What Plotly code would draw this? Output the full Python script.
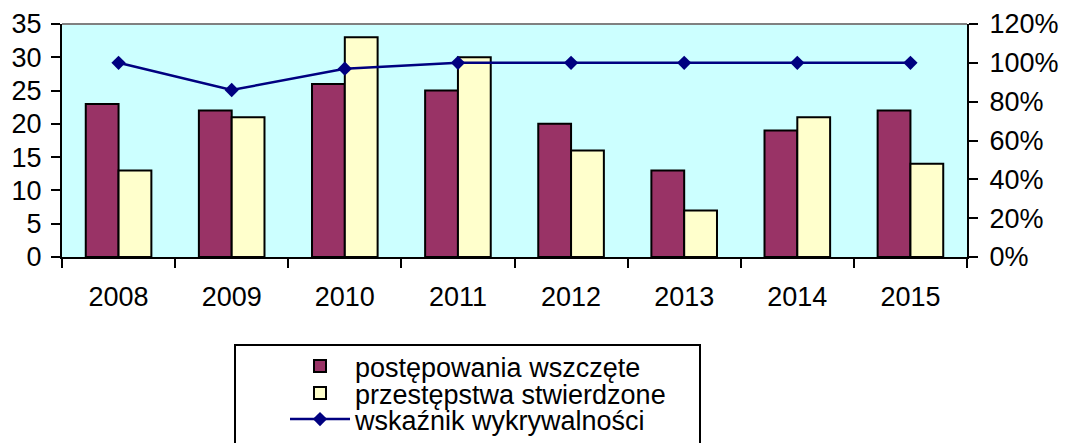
import plotly.graph_objects as go

years = ["2008", "2009", "2010", "2011", "2012", "2013", "2014", "2015"]
wszczete = [23, 22, 26, 25, 20, 13, 19, 22]
stwierdzone = [13, 21, 33, 30, 16, 7, 21, 14]
wskaznik = [1.00, 0.86, 0.97, 1.00, 1.00, 1.00, 1.00, 1.00]

name_a = "postępowania wszczęte"
name_b = "przestępstwa stwierdzone"
name_c = "wskaźnik wykrywalności"

FONT = "Liberation Sans, Arial, sans-serif"
W, H = 1065, 443
L, R, T, B = 62, 98, 24, 186
PW, PH = W - L - R, H - T - B


def px_x(p):
    return (p - L) / PW


def px_y(p):
    return (H - B - p) / PH


fig = go.Figure()
fig.add_trace(go.Bar(x=years, y=wszczete, name=name_a,
                     marker=dict(color="#993366", line=dict(color="black", width=2)),
                     legend="legend"))
fig.add_trace(go.Bar(x=years, y=stwierdzone, name=name_b,
                     marker=dict(color="#FFFFCC", line=dict(color="black", width=2)),
                     legend="legend2"))
fig.add_trace(go.Scatter(x=years, y=wskaznik, name=name_c, yaxis="y2",
                         mode="lines+markers",
                         line=dict(color="#000080", width=2.5),
                         marker=dict(symbol="diamond", size=11, color="#000080"),
                         legend="legend3"))

tick_font = dict(family=FONT, size=27, color="black")
leg_font = dict(family=FONT, size=27, color="black")

common_leg = dict(x=px_x(285), xanchor="left", yanchor="top",
                  bgcolor="rgba(0,0,0,0)", borderwidth=0, font=leg_font,
                  itemwidth=60)

fig.update_layout(
    width=W, height=H,
    margin=dict(l=L, r=R, t=T, b=B, pad=0, autoexpand=False),
    paper_bgcolor="white",
    plot_bgcolor="#CCFFFF",
    barmode="group",
    bargap=0.42,
    bargroupgap=0,
    showlegend=True,
    xaxis=dict(type="category", showline=True, linecolor="black", linewidth=2,
               ticks="outside", tickson="boundaries", ticklen=9, tickwidth=2,
               tickcolor="black", tickfont=tick_font, showgrid=False,
               ticklabelstandoff=15, zeroline=False, automargin=False),
    yaxis=dict(range=[0, 35], dtick=5, showline=True, linecolor="black", linewidth=2,
               ticks="outside", ticklen=9, tickwidth=2, tickcolor="black",
               tickfont=tick_font, showgrid=False, zeroline=False,
               ticklabelstandoff=4, automargin=False),
    yaxis2=dict(range=[0, 1.2], dtick=0.2, tickformat=".0%", overlaying="y",
                side="right", anchor="x", showline=True, linecolor="black", linewidth=2,
                ticks="outside", ticklen=9, tickwidth=2, tickcolor="black",
                tickfont=tick_font, showgrid=False, zeroline=False,
                ticklabelstandoff=6, automargin=False),
    xaxis3=dict(range=[-0.5, 7.5], overlaying="x", anchor="y", side="bottom",
                tickvals=[i - 0.5 for i in range(len(years) + 1)],
                ticks="inside", ticklen=8, tickwidth=2, tickcolor="black",
                showticklabels=False, showgrid=False, showline=False, zeroline=False,
                automargin=False),
    yaxis3=dict(range=[0, 35], dtick=5, overlaying="y", anchor="x", side="left",
                ticks="inside", ticklen=8, tickwidth=2, tickcolor="black",
                showticklabels=False, showgrid=False, showline=False, zeroline=False,
                automargin=False),
    yaxis4=dict(range=[0, 1.2], dtick=0.2, overlaying="y", anchor="x", side="right",
                ticks="inside", ticklen=8, tickwidth=2, tickcolor="black",
                showticklabels=False, showgrid=False, showline=False, zeroline=False,
                automargin=False),
    legend=dict(y=px_y(368 - 26), **common_leg),
    legend2=dict(y=px_y(395 - 26), **common_leg),
    legend3=dict(y=px_y(421 - 26), **common_leg),
    shapes=[
        dict(type="line", xref="paper", yref="paper", x0=0, x1=1, y0=1, y1=1,
             line=dict(color="#808080", width=2)),
        dict(type="rect", xref="paper", yref="paper",
             x0=px_x(235), x1=px_x(700), y0=px_y(345), y1=px_y(460),
             line=dict(color="black", width=2), fillcolor="rgba(0,0,0,0)"),
    ],
)

fig.write_html("out.html", config={"displayModeBar": False},
               post_script="document.body.style.margin='0';")
